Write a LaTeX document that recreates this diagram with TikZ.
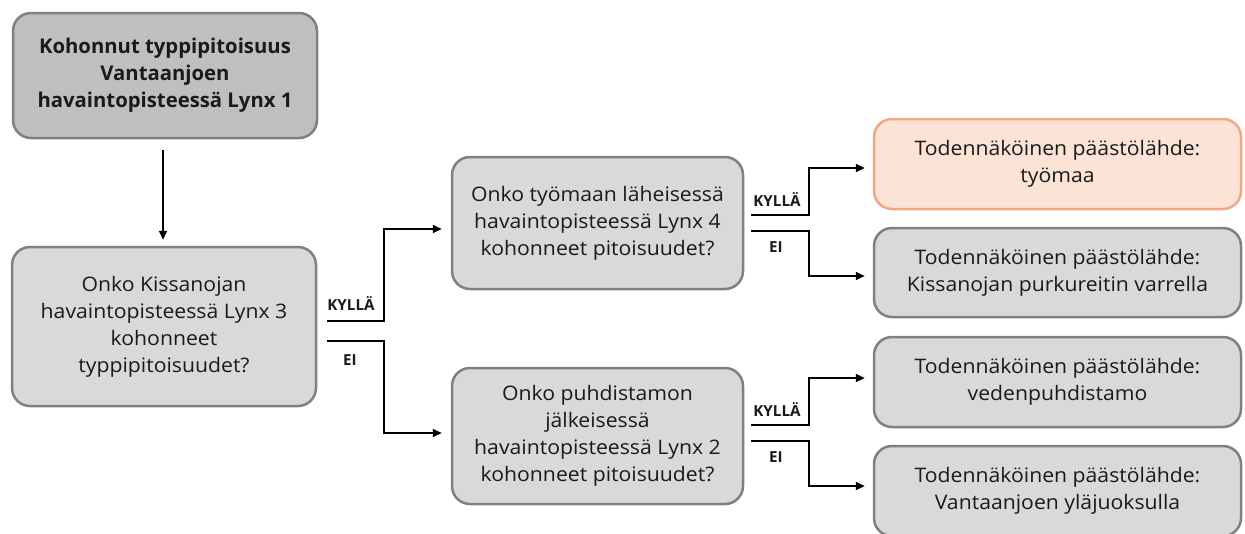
\documentclass[tikz,border=0pt]{standalone}
\usepackage{fontspec}
\setmainfont{Open Sans}
\newfontfamily\widefont{Open Sans}[FakeStretch=1.06]
\usetikzlibrary{calc,arrows.meta}
\definecolor{boxborder}{HTML}{808080}
\definecolor{darkfill}{HTML}{BFBFBF}
\definecolor{lightfill}{HTML}{D9D9D9}
\definecolor{orfill}{HTML}{FBE3D6}
\definecolor{orborder}{HTML}{F1A983}
\definecolor{txt}{HTML}{1A1A1A}
\begin{document}
\begin{tikzpicture}[x=1pt,y=-1pt,
  box/.style={draw=boxborder, line width=2.5pt, rounded corners=18pt, fill=lightfill,
    align=center, inner sep=0pt, text=txt, font=\widefont\fontsize{20}{27}\selectfont},
  dark/.style={box, fill=darkfill, font=\bfseries\fontsize{20.3}{27}\selectfont},
  orange/.style={box, draw=orborder, fill=orfill},
  arr/.style={line width=2pt, -{Triangle[length=9pt,width=8pt]}},
  lab/.style={inner sep=0pt, text=txt, font=\bfseries\fontsize{15.2}{16}\selectfont}]
\useasboundingbox (0,0) rectangle (1245,533);
\clip (0,0) rectangle (1245,533);
\fill[white] (0,0) rectangle (1245,533);

\node[dark, minimum width=304pt, minimum height=125pt] (b1) at (165,75.5)
  {Kohonnut typpipitoisuus\\Vantaanjoen\\havaintopisteessä Lynx 1};
\node[box, minimum width=304pt, minimum height=159pt] (b2) at (164,326.5)
  {Onko Kissanojan\\havaintopisteessä Lynx 3\\kohonneet\\typpipitoisuudet?};
\node[box, minimum width=291pt, minimum height=132pt] (b3) at (597.5,223)
  {Onko työmaan läheisessä\\havaintopisteessä Lynx 4\\kohonneet pitoisuudet?};
\node[box, minimum width=291pt, minimum height=136pt] (b4) at (597.5,436)
  {Onko puhdistamon\\jälkeisessä\\havaintopisteessä Lynx 2\\kohonneet pitoisuudet?};
\node[orange, minimum width=367pt, minimum height=90pt] (b5) at (1057.5,164)
  {Todennäköinen päästölähde:\\työmaa};
\node[box, minimum width=367pt, minimum height=89pt] (b6) at (1057.5,272.5)
  {Todennäköinen päästölähde:\\Kissanojan purkureitin varrella};
\node[box, minimum width=367pt, minimum height=90pt] (b7) at (1057.5,382)
  {Todennäköinen päästölähde:\\vedenpuhdistamo};
\node[box, minimum width=367pt, minimum height=90pt] (b8) at (1057.5,491)
  {Todennäköinen päästölähde:\\Vantaanjoen yläjuoksulla};

% main arrow
\draw[arr] ($(b1.south)+(-2,11)$) -- ($(b2.north)+(-1,-6)$);

% from b2
\draw[arr] ($(b2.east)+(10,-5.5)$) -- ++(57,0) |- ($(b3.west)+(-9,6)$);
\draw[arr] ($(b2.east)+(10,14.5)$) -- ++(57,0) |- ($(b4.west)+(-9,-3)$);
\node[lab] (l1) at (351,304) {KYLLÄ};
\node[lab] (l2) at (350,360) {EI};

% from b3
\draw[arr] ($(b3.east)+(7,-8)$) -- ++(58,0) |- ($(b5.west)+(-8,4)$);
\draw[arr] ($(b3.east)+(7,8)$) -- ++(58,0) |- ($(b6.west)+(-8,3.5)$);
\node[lab] (l3) at (777,200) {KYLLÄ};
\node[lab] (l4) at (776,247) {EI};

% from b4
\draw[arr] ($(b4.east)+(7,-11)$) -- ++(58,0) |- ($(b7.west)+(-8,-4)$);
\draw[arr] ($(b4.east)+(7,5)$) -- ++(58,0) |- ($(b8.west)+(-8,-5)$);
\node[lab] (l5) at (777,410) {KYLLÄ};
\node[lab] (l6) at (776,457) {EI};
\end{tikzpicture}
\end{document}
